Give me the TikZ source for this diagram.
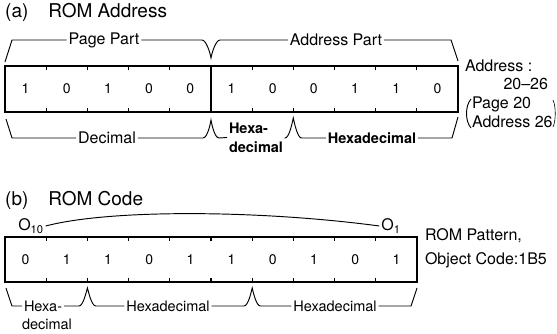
\documentclass[tikz,border=0pt]{standalone}
\usepackage{fontspec}
\setmainfont{TeX Gyre Heros}
\begin{document}
\begin{tikzpicture}[x=1pt,y=-1pt,
  lbl/.style={font=\fontsize{16}{19}\selectfont, inner sep=2pt, outer sep=0pt},
  slbl/.style={font=\fontsize{14.5}{18}\selectfont, inner sep=2pt, outer sep=0pt},
  blbl/.style={font=\fontsize{14.5}{19}\selectfont\bfseries, inner sep=2pt, outer sep=0pt},
  ttl/.style={font=\fontsize{19}{21}\selectfont, anchor=west, inner sep=0pt},
  dig/.style={font=\fontsize{14}{16}\selectfont, inner sep=0pt},
  frame/.style={draw, line width=2.5pt, inner sep=0pt, outer sep=0pt},
  brk/.style={line width=0.95pt},
  tck/.style={line width=1.1pt},
]
\useasboundingbox (0,0) rectangle (557,333);

% ---------------- (a) ----------------
\node[ttl] (ta) at (5,12) {(a)\hspace{1.05em}ROM Address};

\node[frame, minimum width=453pt, minimum height=46pt] (BA) at (231.5,89) {};
\draw[line width=1.2pt] (210.9,66) -- (210.9,112);
\foreach \i in {1,2,3,4,6,7,8,9,10} {
  \draw[tck] ({5+41.18*\i},66) -- ++(0,4);
  \draw[tck] ({5+41.18*\i},112) -- ++(0,-4);
}
\foreach \d [count=\i] in {1,0,1,0,0,1,0,0,1,1,0}
  \node[dig] (da\i) at ({5+41.18*(\i-0.5)},89) {\d};

% top bracket
\node[lbl] (pp) at (104,40) {Page Part};
\node[lbl] (ap) at (336,40) {Address Part};
\coordinate (pa0) at (5,62);
\coordinate (pa1) at (458,61);
\draw[brk] (pa0) -- (12,40) -- (pp.west);
\draw[brk] (pp.east) -- (202,40) .. controls (206,40) and (210,52) .. (211,58)
   .. controls (212,52) and (216,40) .. (220,40) -- (ap.west);
\draw[brk] (ap.east) -- (451,40) -- (pa1);

% bottom bracket
\node[lbl] (dec) at (107,138) {Decimal};
\node[blbl, align=left, anchor=west] (hx1) at (227,137.5) {Hexa-\\decimal};
\node[blbl] (hx2) at (372,138) {Hexadecimal};
\coordinate (ba0) at (6,119);
\coordinate (ba1) at (458,117);
\draw[brk] (ba0) -- (12,138) -- (dec.west);
\draw[brk] (dec.east) -- (203,138) .. controls (207,138) and (210,126) .. (211,120)
   .. controls (212,126) and (215,138) .. (219,138) -- (hx1.west);
\draw[brk] (hx1.east) -- (285,138) .. controls (289,138) and (292,124) .. (293.3,118)
   .. controls (294.6,124) and (297.6,138) .. (301.6,138) -- (hx2.west);
\draw[brk] (hx2.east) -- (452,138) -- (ba1);

% right labels
\node[lbl, anchor=west] (adr) at (463,66) {Address :};
\node[lbl, anchor=east] (rng) at (550,84) {20--26};
\node[lbl, anchor=west] (pg) at (470,104) {Page 20};
\node[lbl, anchor=west] (ad) at (470,122) {Address 26};
\draw[brk] (471,99) .. controls (465,106) and (465,121) .. (471,128);
\draw[line width=0.6pt] (553,100) .. controls (556,106) and (556,121) .. (553,127);

% ---------------- (b) ----------------
\node[ttl] (tb) at (5,200) {(b)\hspace{1.05em}ROM Code};

\node[frame, minimum width=412pt, minimum height=45pt] (BB) at (211,259.5) {};
\foreach \i in {1,...,9} {
  \draw[tck] ({5+41.2*\i},237) -- ++(0,4);
  \draw[tck] ({5+41.2*\i},282) -- ++(0,-4);
}
\foreach \d [count=\i] in {0,1,1,0,1,1,0,1,0,1}
  \node[dig] (db\i) at ({5+41.2*(\i-0.5)},259.5) {\d};

\node[lbl] (o10) at (31,226) {O\textsubscript{10}};
\node[lbl] (o1) at (391,226) {O\textsubscript{1}};
\draw[brk] (o10.east) .. controls (110,209) and (260,210) .. (o1.west);

\node[lbl, anchor=west] (rp) at (423,236) {ROM Pattern,};
\node[lbl, anchor=west] (oc) at (423,260) {Object Code:1B5};

% bottom bracket
\node[slbl, anchor=west] (hb1) at (22,306) {Hexa-};
\node[slbl, anchor=west] (hb2) at (20,324) {decimal};
\node[slbl] (hh1) at (168,306) {Hexadecimal};
\node[slbl] (hh2) at (335,306) {Hexadecimal};
\coordinate (bb0) at (6,288);
\coordinate (bb1) at (417,288);
\draw[brk] (bb0) -- (12,306) -- (hb1.west);
\draw[brk] (hb1.east) -- (79,306) .. controls (83,306) and (86,293) .. (87.4,288)
   .. controls (88.8,293) and (91.8,306) .. (95.8,306) -- (hh1.west);
\draw[brk] (hh1.east) -- (244,306) .. controls (248,306) and (251,293) .. (252.2,288)
   .. controls (253.4,293) and (256.4,306) .. (260.4,306) -- (hh2.west);
\draw[brk] (hh2.east) -- (411,306) -- (bb1);
\end{tikzpicture}
\end{document}
